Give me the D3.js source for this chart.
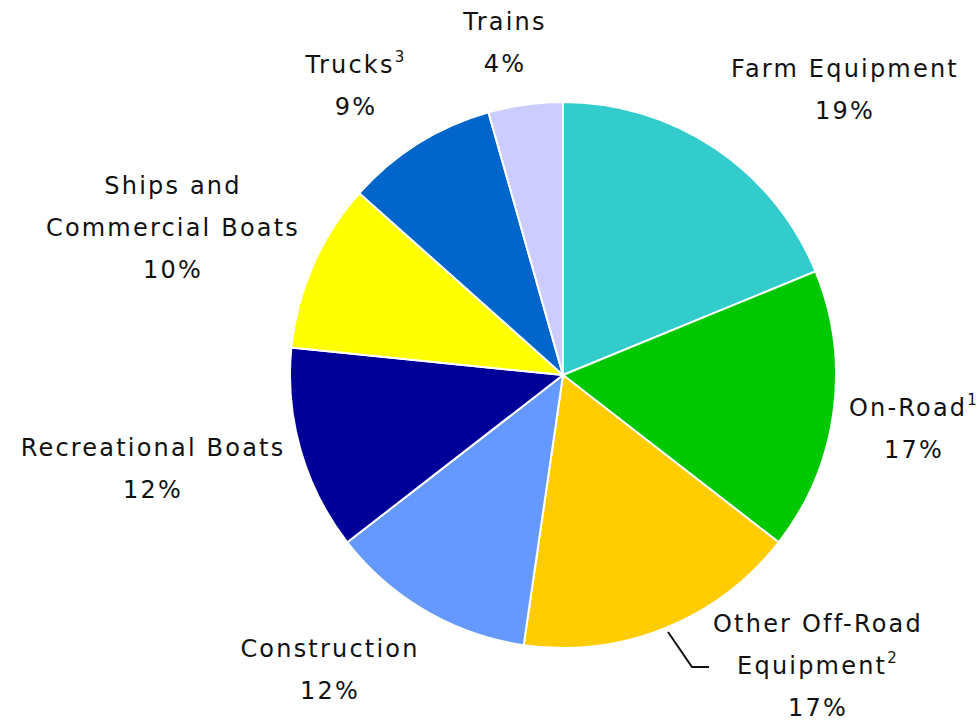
<!DOCTYPE html>
<html>
<head>
<meta charset="utf-8">
<script src="https://cdn.jsdelivr.net/npm/d3@7"></script>
<style>
  body { margin: 0; background: #fff; }
  text { font-family: "DejaVu Sans", sans-serif; font-size: 24px; fill: #111; letter-spacing: 2.2px; }
</style>
</head>
<body>
<script>
const categories = ["Farm Equipment", "On-Road", "Other Off-Road Equipment", "Construction",
  "Recreational Boats", "Ships and Commercial Boats", "Trucks", "Trains"];
// shares; labels show them rounded
const values = [18.8, 16.7, 16.8, 12.2, 12.1, 10.0, 9.0, 4.4];
const colors = ["#33cccc", "#00c800", "#ffcc00", "#6699ff", "#000099", "#ffff00", "#0066cc", "#ccccff"];
// label lines and footnote marks
const labelLines = [["Farm Equipment"], ["On-Road"], ["Other Off-Road", "Equipment"], ["Construction"],
  ["Recreational Boats"], ["Ships and", "Commercial Boats"], ["Trucks"], ["Trains"]];
const footnotes = ["", "1", "2", "", "", "", "3", ""];

// label anchor: center x, first baseline y
const labelPos = [[845, 77], [914, 416], [818, 632], [330, 657], [153, 456], [173, 194], [356, 73], [505, 30]];
const lineH = 42;

const W = 980, H = 721, cx = 563, cy = 375, R = 273;

const svg = d3.select("body").append("svg").attr("width", W).attr("height", H);

const pie = d3.pie().sort(null).value(d => d);
const arc = d3.arc().innerRadius(0).outerRadius(R);

svg.append("g").attr("transform", `translate(${cx},${cy})`)
  .selectAll("path").data(pie(values)).join("path")
  .attr("d", arc)
  .attr("fill", (d, i) => colors[i])
  .attr("stroke", "#fff")
  .attr("stroke-width", 2);

// leader line for Other Off-Road Equipment
svg.append("path")
  .attr("d", "M668,632 L692,667 L709,667")
  .attr("fill", "none").attr("stroke", "#111").attr("stroke-width", 2);

labelLines.forEach((lines, i) => {
  const [x, y] = labelPos[i];
  const g = svg.append("g");
  lines.forEach((ln, j) => {
    const t = g.append("text").attr("x", x).attr("y", y + j * lineH).attr("text-anchor", "middle");
    t.append("tspan").text(ln);
    if (j === lines.length - 1 && footnotes[i]) {
      t.append("tspan").attr("dy", -11).attr("font-size", 15).text(footnotes[i]);
    }
  });
  g.append("text").attr("x", x).attr("y", y + lines.length * lineH)
    .attr("text-anchor", "middle").text(Math.round(values[i]) + "%");
});
</script>
</body>
</html>
